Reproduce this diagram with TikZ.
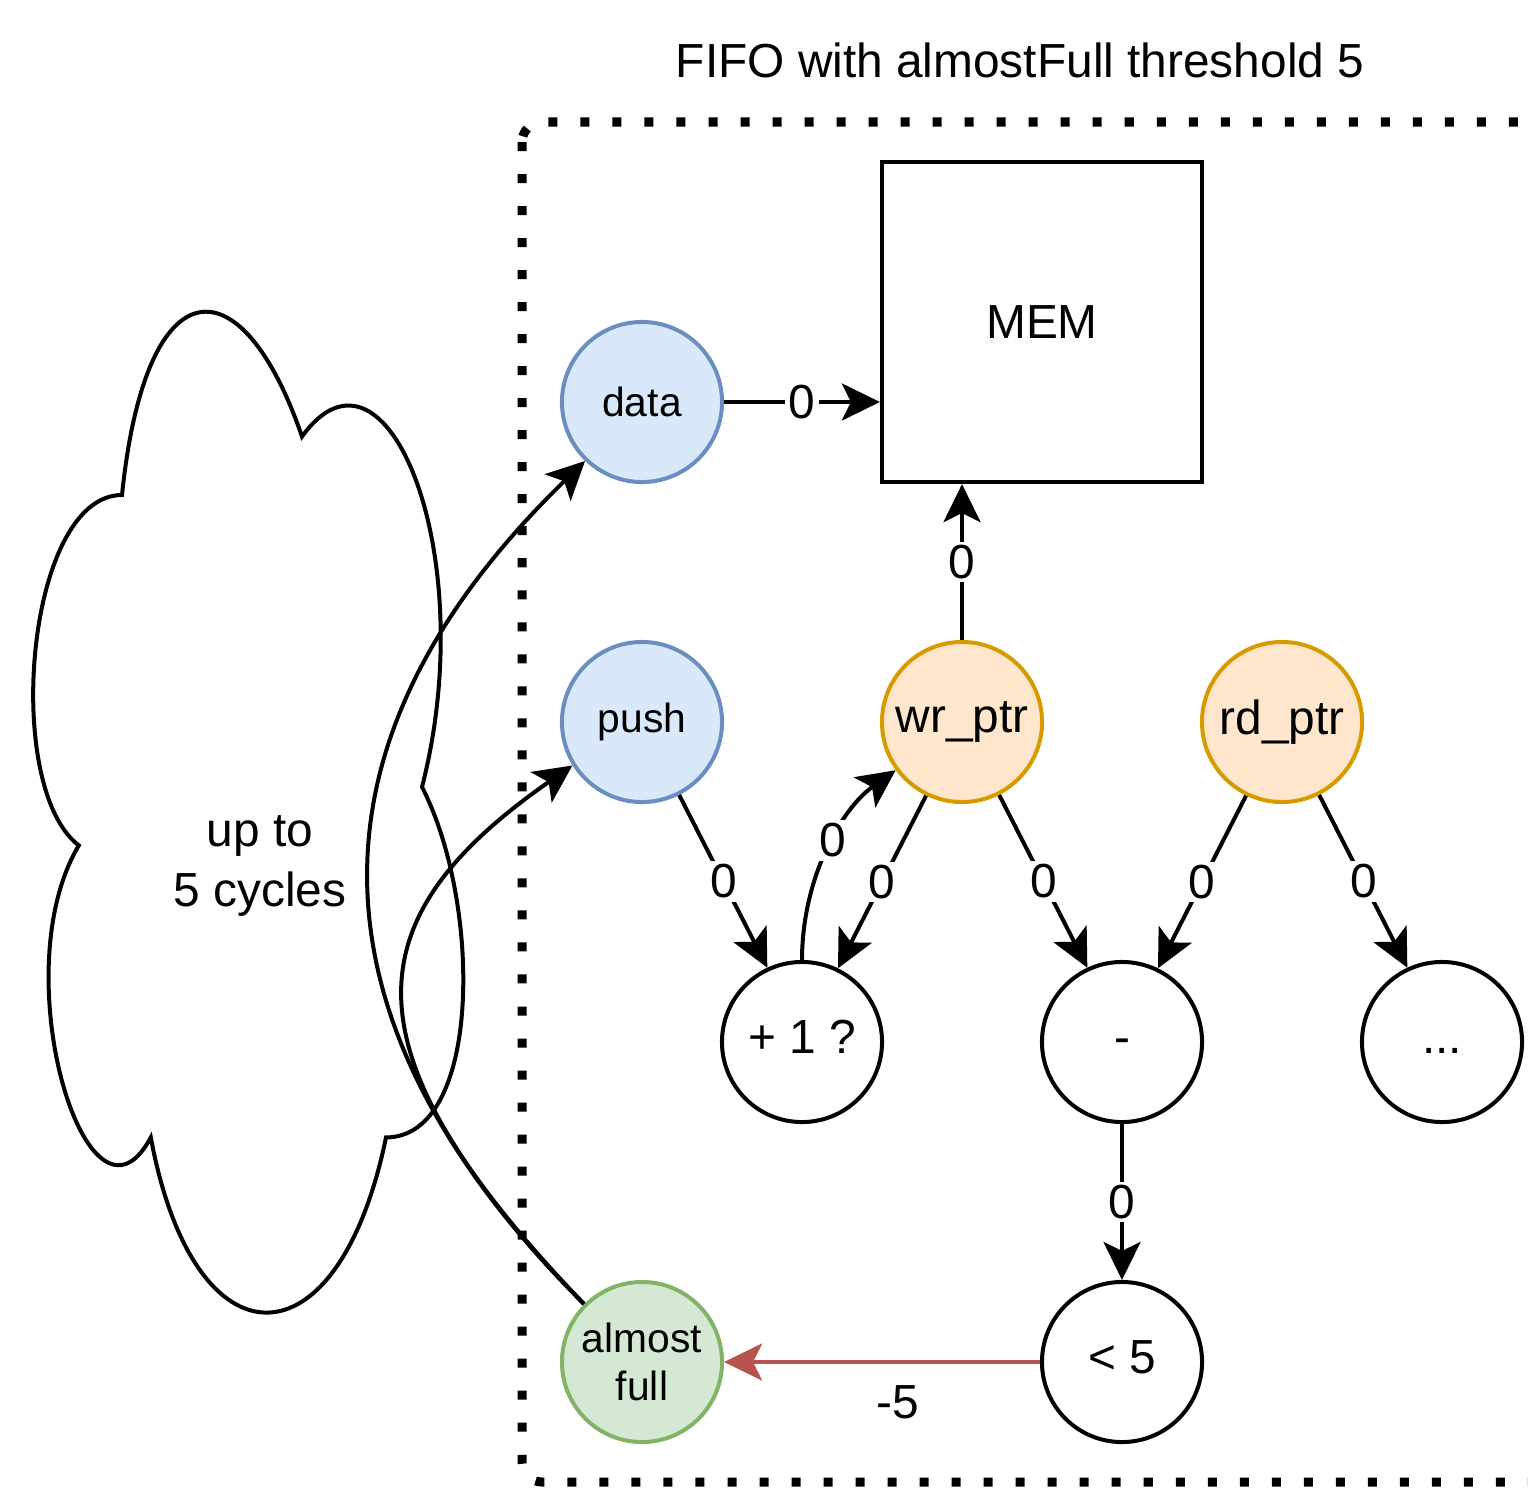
\documentclass[tikz,border=0pt]{standalone}
\usepackage{fontspec}
\setmainfont{Liberation Sans}
\usetikzlibrary{arrows.meta}

\newcommand{\bigtxt}{\fontsize{13.6}{17}\selectfont}
\newcommand{\smalltxt}{\fontsize{11.6}{13.6}\selectfont}

\definecolor{bluefill}{HTML}{DAE8FC}
\definecolor{blueline}{HTML}{6C8EBF}
\definecolor{orangefill}{HTML}{FFE6CC}
\definecolor{orangeline}{HTML}{D79B00}
\definecolor{greenfill}{HTML}{D5E8D4}
\definecolor{greenline}{HTML}{82B366}
\definecolor{redline}{HTML}{B85450}

\tikzset{
  ball/.style={circle, draw, line width=0.04cm, minimum size=1.6cm, inner sep=0pt, align=center},
  inball/.style={ball, draw=blueline, fill=bluefill, font=\smalltxt},
  ptrball/.style={ball, draw=orangeline, fill=orangefill, font=\bigtxt},
  outball/.style={ball, draw=greenline, fill=greenfill, font=\smalltxt},
  opball/.style={ball, font=\bigtxt, execute at begin node=\strut},
  wire/.style={line width=0.04cm, -{Stealth[length=0.38cm,width=0.37cm,inset=0.09cm]}},
  lbl/.style={fill=white, font=\bigtxt, inner sep=1pt},
}

\begin{document}
\begin{tikzpicture}[x=0.01cm, y=-0.01cm]
\useasboundingbox (0,0) rectangle (1528,1488);
\clip (0,0) rectangle (1528,1488);

% 标题
\node[font=\bigtxt] (title) at (1020,60) {FIFO with almostFull threshold 5};

% 虚线框
\draw[line width=0.09cm, dash pattern=on 0.09cm off 0.23cm, rounded corners=0.2cm] (522,122) rectangle (1620,1482);

% 云
\draw[line width=0.04cm, fill=white] (122,495) .. controls (26,495) and (2,787) .. (78.8,845.4)
  .. controls (2,974) and (88.4,1254) .. (150.8,1137.4)
  .. controls (194,1371) and (338,1371) .. (386,1137.4)
  .. controls (482,1137.4) and (482,903.8) .. (422,787)
  .. controls (482,553.4) and (386,319.8) .. (302,436.6)
  .. controls (242,261.4) and (146,261.4) .. (122,495) -- cycle;
\node[font=\bigtxt, align=center] (delay) at (260,866) {up to\\5 cycles};

% 节点
\node[inball] (data) at (642,402) {data};
\node[inball] (push) at (642,722) {push};
\node[draw, line width=0.04cm, minimum size=3.2cm, font=\bigtxt] (mem) at (1042,322) {MEM};
\node[ptrball] (wr) at (962,722) {wr\_ptr};
\node[ptrball] (rd) at (1282,722) {rd\_ptr};
\node[opball] (plus) at (802,1042) {+ 1 ?};
\node[opball] (minus) at (1122,1042) {-};
\node[opball] (more) at (1442,1042) {...};
\node[opball] (lt) at (1122,1362) {< 5};
\node[outball] (full) at (642,1362) {almost\\full};

% 连线
\draw[wire] (data.east) -- node[lbl] (l1) {0} (mem.west |- data.east);
\draw[wire] (wr.north) -- node[lbl] (l2) {0} (wr.north |- mem.south);
\draw[wire] (push.-63) -- node[lbl] (l3) {0} (plus.115);
\draw[wire] (wr.244) -- node[lbl] (l4) {0} (plus.64);
\draw[wire] (plus.north) .. controls (802,880) and (840,810) .. node[lbl, pos=0.55] (l5) {0} (wr.216);
\draw[wire] (wr.-63) -- node[lbl] (l6) {0} (minus.115);
\draw[wire] (rd.244) -- node[lbl] (l7) {0} (minus.64);
\draw[wire] (rd.-63) -- node[lbl] (l8) {0} (more.115);
\draw[wire] (minus.south) -- node[lbl] (l9) {0} (lt.north);
\draw[wire, draw=redline] (lt.west) -- node[pos=0.45, below=0.1cm, font=\bigtxt] (l10) {-5} (full.east);

% 反馈曲线
\draw[wire] (full.135) .. controls (298,1018) and (298,740) .. (data.226);
\draw[wire] (full.135) .. controls (340,1050) and (352,919) .. (push.212);

\end{tikzpicture}
\end{document}
